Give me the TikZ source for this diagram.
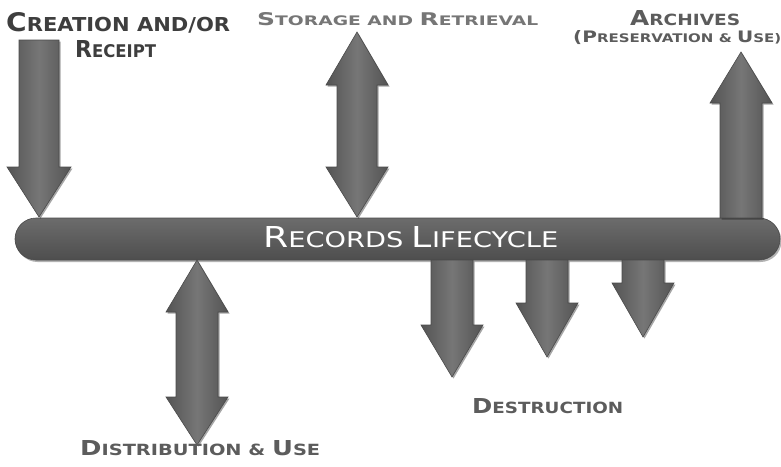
\documentclass[tikz,border=0pt]{standalone}
\usepackage{fontspec}
\setmainfont{DejaVu Sans}
\newfontfamily\barfont{DejaVu Sans}
\usetikzlibrary{shadows}
\definecolor{arrowdark}{HTML}{545454}
\definecolor{arrowmid}{HTML}{767676}
\definecolor{arrowline}{HTML}{4A4A4A}
\definecolor{bartop}{HTML}{6C6C6C}
\definecolor{barbot}{HTML}{4E4E4E}
\definecolor{lbldark}{HTML}{3E3E3E}
\definecolor{lblmid}{HTML}{5C5C5C}
\definecolor{lbllight}{HTML}{767676}
\newcommand\fsc[2]{{\fontsize{20}{20}\selectfont #1}{\fontsize{15}{15}\selectfont #2}}
\tikzset{
  arrowshape/.style={left color=arrowdark, right color=arrowdark, middle color=arrowmid,
    draw=arrowline, line width=0.6pt, line join=miter,
    drop shadow={shadow xshift=1.5pt, shadow yshift=-1.5pt, opacity=0.35, fill=black}},
  barshape/.style={top color=bartop, bottom color=barbot, draw=arrowline, line width=0.6pt,
    drop shadow={shadow xshift=1.5pt, shadow yshift=-2pt, opacity=0.3, fill=black}},
  lbl/.style={inner sep=0pt, anchor=base west, font=\bfseries},
}
\begin{document}
\begin{tikzpicture}[x=1pt,y=-1pt]
\useasboundingbox (0,0) rectangle (781,466);
\fill[white] (0,0) rectangle (781,466);

% main bar
\path[barshape, rounded corners=21pt] (15,218) rectangle (780,260);

% Creation (down)
\path[arrowshape] (19,40) -- (59,40) -- (59,167) -- (71,167) -- (39,217) -- (7,167) -- (19,167) -- cycle;
% Storage (double)
\path[arrowshape] (357,32) -- (388,85) -- (377,85) -- (377,167) -- (388,167) -- (357,217)
  -- (326,167) -- (337,167) -- (337,85) -- (326,85) -- cycle;
% Archives (up)
\path[arrowshape] (741,52) -- (772,103) -- (762,103) -- (762,218) -- (720,218) -- (720,103) -- (710,103) -- cycle;
% Distribution (double)
\path[arrowshape] (197,260) -- (228,312) -- (218,312) -- (218,397) -- (228,397) -- (197,445)
  -- (166,397) -- (176,397) -- (176,312) -- (166,312) -- cycle;
% Destruction arrows
\path[arrowshape] (431,260) -- (473,260) -- (473,325) -- (483,325) -- (452,377) -- (421,325) -- (431,325) -- cycle;
\path[arrowshape] (526,260) -- (568,260) -- (568,303) -- (578,303) -- (547,357) -- (516,303) -- (526,303) -- cycle;
\path[arrowshape] (622,260) -- (664,260) -- (664,283) -- (674,283) -- (643,337) -- (612,283) -- (622,283) -- cycle;

% labels
\node[lbl, text=lbldark] (creation) at (6,31) {\resizebox{224pt}{19pt}{\fsc{C}{REATION AND/OR}}};
\node[lbl, text=lbldark] (receipt) at (75,57) {\resizebox{81pt}{17pt}{\fsc{R}{ECEIPT}}};
\node[lbl, text=lbllight] (storage) at (257,25) {\resizebox{281pt}{13pt}{\fsc{S}{TORAGE AND }\fsc{R}{ETRIEVAL}}};
\node[lbl, text=lblmid] (archives) at (630,25) {\resizebox{110pt}{15pt}{\fsc{A}{RCHIVES}}};
\node[lbl, text=lblmid] (preserv) at (573,42) {\resizebox{208pt}{12pt}{\fsc{(P}{RESERVATION \& }\fsc{U}{SE)}}};
\node[lbl, text=lblmid] (distrib) at (80,455) {\resizebox{240pt}{15pt}{\fsc{D}{ISTRIBUTION \& }\fsc{U}{SE}}};
\node[lbl, text=lblmid] (destr) at (472,413) {\resizebox{151pt}{15pt}{\fsc{D}{ESTRUCTION}}};
\node[inner sep=0pt, anchor=base west, text=white] (lifecycle) at (263,247)
  {\resizebox{295pt}{21pt}{\barfont\fsc{R}{ECORDS }\fsc{L}{IFECYCLE}}};
\end{tikzpicture}
\end{document}
